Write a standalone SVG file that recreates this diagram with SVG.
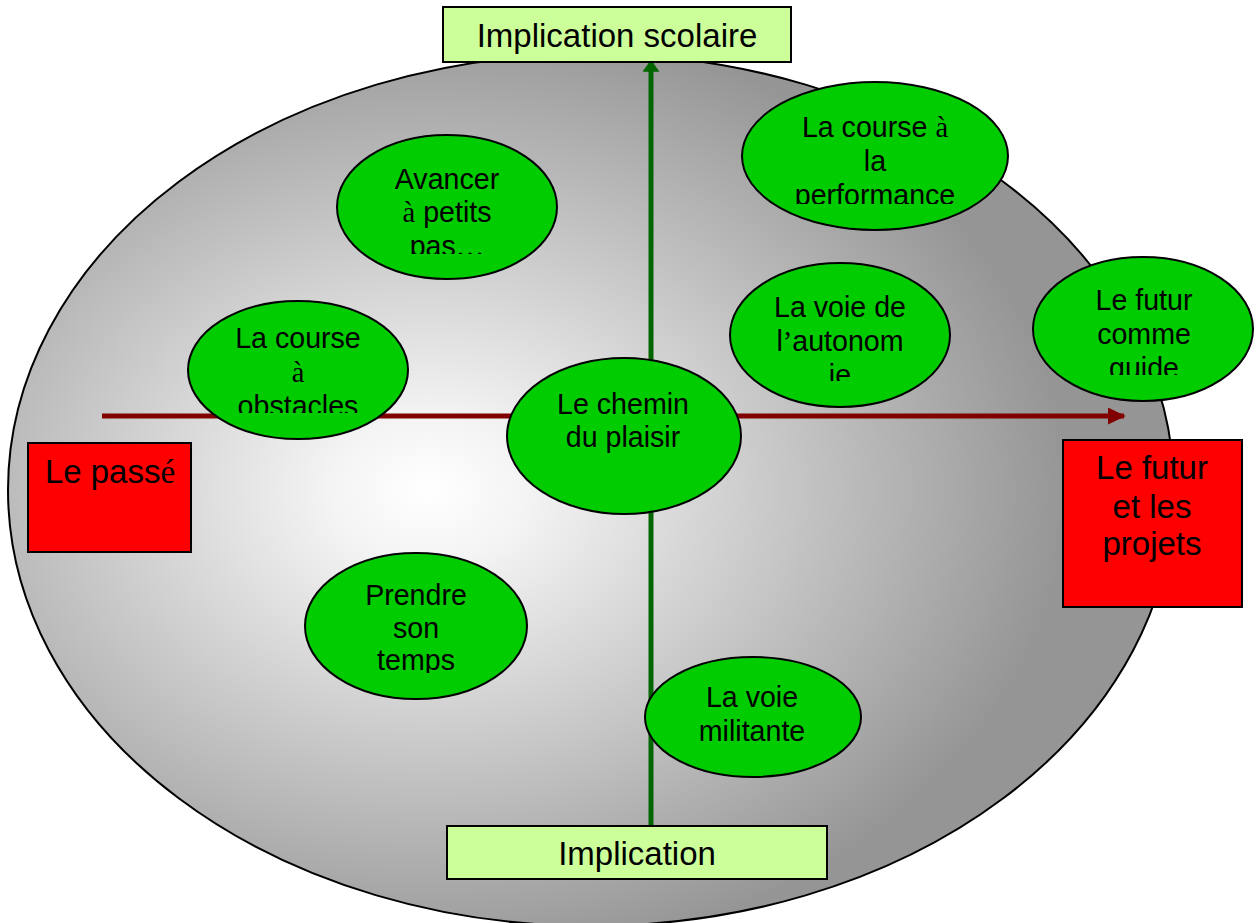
<svg xmlns="http://www.w3.org/2000/svg" width="1256" height="923" viewBox="0 0 1256 923">
<defs>
<radialGradient id="bg" cx="0.36" cy="0.5" r="0.55">
<stop offset="0" stop-color="#ffffff"/>
<stop offset="0.15" stop-color="#f4f4f4"/>
<stop offset="1" stop-color="#959595"/>
</radialGradient>
<marker id="ahRed" viewBox="0 0 10 10" refX="9" refY="5" markerWidth="3.6" markerHeight="3.4" orient="auto" markerUnits="strokeWidth" preserveAspectRatio="none">
<path d="M0,0 L10,5 L0,10 Z" fill="#800000"/>
</marker>
<marker id="ahGreen" viewBox="0 0 10 10" refX="9" refY="5" markerWidth="2.4" markerHeight="3.4" orient="auto" markerUnits="strokeWidth" preserveAspectRatio="none">
<path d="M0,0 L10,5 L0,10 Z" fill="#006600"/>
</marker>
<clipPath id="c1"><rect x="330" y="130" width="240" height="124"/></clipPath>
<clipPath id="c2"><rect x="730" y="80" width="290" height="124"/></clipPath>
<clipPath id="c3"><rect x="180" y="300" width="240" height="113"/></clipPath>
<clipPath id="c4"><rect x="720" y="260" width="240" height="121"/></clipPath>
<clipPath id="c5"><rect x="1020" y="250" width="236" height="125"/></clipPath>
<clipPath id="c6"><rect x="290" y="550" width="250" height="123"/></clipPath>
</defs>
<style>
.ell{fill:#00cc00;stroke:#000;stroke-width:2}
.box{stroke:#000;stroke-width:2}
.lbl{fill:#ccff99}
.red{fill:#ff0000}
.t{font-family:"Liberation Sans",Arial,sans-serif;font-size:28.6px;fill:#000;text-anchor:middle}
.tb{font-family:"Liberation Sans",Arial,sans-serif;font-size:33px;fill:#000;text-anchor:middle}
.s{font-family:"Liberation Serif","Times New Roman",serif}
</style>
<ellipse id="background" cx="591" cy="490" rx="583" ry="436" fill="url(#bg)" stroke="#000" stroke-width="2"/>
<g id="connectors">
<line x1="102" y1="416" x2="1124" y2="416" stroke="#800000" stroke-width="5" marker-end="url(#ahRed)"/>
<line x1="651" y1="826" x2="651" y2="61" stroke="#006600" stroke-width="5" marker-end="url(#ahGreen)"/>
</g>
<g id="top-label">
<rect class="box lbl" x="443" y="7" width="348" height="55"/>
<text class="tb" x="617" y="47">Implication scolaire</text>
</g>
<g id="bottom-label">
<rect class="box lbl" x="447" y="826" width="380" height="53"/>
<text class="tb" x="637" y="865">Implication</text>
</g>
<g id="passe">
<rect class="box red" x="28" y="443" width="163" height="109"/>
<text class="tb" x="110" y="483">Le pass<tspan class="s">é</tspan></text>
</g>
<g id="futur">
<rect class="box red" x="1063" y="440" width="179" height="167"/>
<text class="tb" x="1152" y="479">Le futur</text>
<text class="tb" x="1152" y="518">et les</text>
<text class="tb" x="1152" y="555">projets</text>
</g>
<g id="avancer">
<ellipse class="ell" cx="447" cy="207" rx="110" ry="72"/>
<g clip-path="url(#c1)">
<text class="t" x="447" y="189">Avancer</text>
<text class="t" x="447" y="222"><tspan class="s">à</tspan> petits</text>
<text class="t" x="447" y="256">pas<tspan class="s">…</tspan></text>
</g>
</g>
<g id="performance">
<ellipse class="ell" cx="875" cy="156" rx="133" ry="74"/>
<g clip-path="url(#c2)">
<text class="t" x="875" y="137">La course <tspan class="s">à</tspan></text>
<text class="t" x="875" y="171">la</text>
<text class="t" x="875" y="205">performance</text>
</g>
</g>
<g id="obstacles">
<ellipse class="ell" cx="298" cy="370" rx="110" ry="69"/>
<g clip-path="url(#c3)">
<text class="t" x="298" y="348">La course</text>
<text class="t" x="298" y="382"><tspan class="s">à</tspan></text>
<text class="t" x="298" y="416">obstacles</text>
</g>
</g>
<g id="autonomie">
<ellipse class="ell" cx="840" cy="335" rx="110" ry="72"/>
<g clip-path="url(#c4)">
<text class="t" x="840" y="317">La voie de</text>
<text class="t" x="840" y="351">l<tspan class="s">’</tspan>autonom</text>
<text class="t" x="840" y="385">ie</text>
</g>
</g>
<g id="futur-guide">
<ellipse class="ell" cx="1143" cy="329" rx="110" ry="72"/>
<g clip-path="url(#c5)">
<text class="t" x="1144" y="310">Le futur</text>
<text class="t" x="1144" y="344">comme</text>
<text class="t" x="1144" y="378">guide</text>
</g>
</g>
<g id="plaisir">
<ellipse class="ell" cx="624" cy="436" rx="117" ry="78"/>
<text class="t" x="623" y="414">Le chemin</text>
<text class="t" x="623" y="447">du plaisir</text>
</g>
<g id="temps">
<ellipse class="ell" cx="416" cy="626" rx="111" ry="73"/>
<g clip-path="url(#c6)">
<text class="t" x="416" y="605">Prendre</text>
<text class="t" x="416" y="638">son</text>
<text class="t" x="416" y="670">temps</text>
</g>
</g>
<g id="militante">
<ellipse class="ell" cx="753" cy="717" rx="108" ry="60"/>
<text class="t" x="752" y="707">La voie</text>
<text class="t" x="752" y="741">militante</text>
</g>
</svg>
